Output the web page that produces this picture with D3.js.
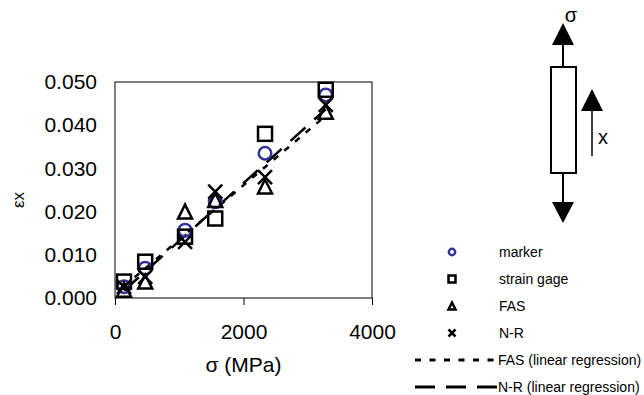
<!DOCTYPE html>
<meta charset="utf-8">
<script src="https://d3js.org/d3.v7.min.js"></script>
<style>
  body { margin: 0; background: #fff; }
  text { font-family: "Liberation Sans", Arial, sans-serif; fill: #000; }
  .axis text { font-size: 21px; }
  .legend text { font-size: 14px; }
</style>
<body>
<div id="chart"></div>
<script>
  // stress values (MPa) for each measurement point
  const sigma = [140, 470, 1090, 1560, 2335, 3280];
  // strain readings per method
  const marker     = [0.0026, 0.0069, 0.0157, 0.0223, 0.0335, 0.0470];
  const strainGage = [0.0038, 0.0084, 0.0142, 0.0184, 0.0380, 0.0482];
  const fas        = [0.0019, 0.0038, 0.0200, 0.0227, 0.0258, 0.0431];
  const nr         = [0.0026, 0.0049, 0.0130, 0.0246, 0.0280, 0.0447];
  // regression line end points
  const fitX   = [140, 3280];
  const fasFit = [0.0027, 0.0422];
  const nrFit  = [0.0017, 0.0437];
  const xTicks = [0, 2000, 4000];
  const yTicks = [0, 0.01, 0.02, 0.03, 0.04, 0.05];
  const legendLabels = ["marker", "strain gage", "FAS", "N-R",
                        "FAS (linear regression)", "N-R (linear regression)"];

  const width = 644, height = 395;
  const svg = d3.select("#chart").append("svg")
    .attr("width", width).attr("height", height);

  const x = d3.scaleLinear().domain([0, 4000]).range([115, 372]);
  const y = d3.scaleLinear().domain([0, 0.05]).range([298, 82]);

  // plot frame
  svg.append("rect")
    .attr("x", x(0)).attr("y", y(0.05))
    .attr("width", x(4000) - x(0)).attr("height", y(0) - y(0.05))
    .attr("fill", "none").attr("stroke", "#000").attr("stroke-width", 1);

  const xAxis = svg.append("g").attr("class", "axis")
    .attr("transform", `translate(0,${y(0)})`)
    .call(d3.axisBottom(x).tickValues(xTicks).tickSize(7).tickPadding(19).tickFormat(d3.format("d")));
  xAxis.select(".domain").remove();
  xAxis.selectAll("line").attr("stroke", "#000");

  const yAxis = svg.append("g").attr("class", "axis")
    .attr("transform", `translate(${x(0)},0)`)
    .call(d3.axisLeft(y).tickValues(yTicks).tickSize(0).tickPadding(18).tickFormat(d3.format(".3f")));
  yAxis.select(".domain").remove();

  svg.append("text").attr("x", x(2000)).attr("y", 372)
    .attr("text-anchor", "middle").style("font-size", "21px").text("σ (MPa)");
  svg.append("text").attr("transform", "translate(24,200) rotate(-90)")
    .attr("text-anchor", "middle").style("font-size", "17px").text("εx");

  // regression lines
  const line = d3.line().x(d => x(d[0])).y(d => y(d[1]));
  svg.append("path").datum(fitX.map((v, i) => [v, fasFit[i]]))
    .attr("d", line).attr("fill", "none").attr("stroke", "#000")
    .attr("stroke-width", 2.5).attr("stroke-dasharray", "6,8");
  svg.append("path").datum(fitX.map((v, i) => [v, nrFit[i]]))
    .attr("d", line).attr("fill", "none").attr("stroke", "#000")
    .attr("stroke-width", 2.5).attr("stroke-dasharray", "20,12");

  // marker shapes
  function drawSymbol(g, kind, s) {
    if (kind === "circle") {
      g.append("circle").attr("r", s * 0.45)
        .attr("fill", "none").attr("stroke", "#333399").attr("stroke-width", 2.5);
    } else if (kind === "square") {
      g.append("rect").attr("x", -s / 2).attr("y", -s / 2).attr("width", s).attr("height", s)
        .attr("fill", "none").attr("stroke", "#000").attr("stroke-width", 2.5);
    } else if (kind === "triangle") {
      g.append("path").attr("d", `M0,${-s / 2}L${s / 2},${s / 2}L${-s / 2},${s / 2}Z`)
        .attr("fill", "none").attr("stroke", "#000").attr("stroke-width", 2.5);
    } else {
      g.append("path").attr("d", `M${-s / 2},${-s / 2}L${s / 2},${s / 2}M${s / 2},${-s / 2}L${-s / 2},${s / 2}`)
        .attr("fill", "none").attr("stroke", "#000").attr("stroke-width", 2.5);
    }
  }

  const series = [
    { kind: "circle", values: marker },
    { kind: "square", values: strainGage },
    { kind: "triangle", values: fas },
    { kind: "cross", values: nr }
  ];

  series.forEach(sr => {
    svg.append("g").selectAll("g")
      .data(sigma.map((v, i) => [v, sr.values[i]]))
      .join("g")
      .attr("transform", d => `translate(${x(d[0])},${y(d[1])})`)
      .each(function() { drawSymbol(d3.select(this), sr.kind, 14); });
  });

  // legend
  const legend = svg.append("g").attr("class", "legend");
  const ly = d3.scalePoint().domain(legendLabels).range([252, 387]);
  series.forEach((sr, i) => {
    const g = legend.append("g").attr("transform", `translate(452,${ly(legendLabels[i])})`);
    drawSymbol(g, sr.kind, 7);
  });
  legend.append("line").attr("x1", 415).attr("x2", 497)
    .attr("y1", ly(legendLabels[4])).attr("y2", ly(legendLabels[4]))
    .attr("stroke", "#000").attr("stroke-width", 3).attr("stroke-dasharray", "6,8.5");
  legend.append("line").attr("x1", 415).attr("x2", 497)
    .attr("y1", ly(legendLabels[5])).attr("y2", ly(legendLabels[5]))
    .attr("stroke", "#000").attr("stroke-width", 3).attr("stroke-dasharray", "20,11");
  legend.selectAll("text.lbl").data(legendLabels).join("text")
    .attr("class", "lbl")
    .attr("x", (d, i) => i < 4 ? 499 : 498)
    .attr("y", d => ly(d)).attr("dy", "0.35em").text(d => d);

  // specimen sketch
  const sk = svg.append("g");
  const cx = 563;
  sk.append("text").attr("x", 571).attr("y", 22).attr("text-anchor", "middle")
    .style("font-size", "20px").text("σ");
  sk.append("path").attr("d", `M${cx},23L${cx + 11},45L${cx - 11},45Z`).attr("fill", "#000");
  sk.append("line").attr("x1", cx).attr("x2", cx).attr("y1", 45).attr("y2", 67)
    .attr("stroke", "#000").attr("stroke-width", 2);
  sk.append("rect").attr("x", 551).attr("y", 67).attr("width", 25).attr("height", 106)
    .attr("fill", "#fff").attr("stroke", "#000").attr("stroke-width", 2);
  sk.append("line").attr("x1", cx).attr("x2", cx).attr("y1", 173).attr("y2", 202)
    .attr("stroke", "#000").attr("stroke-width", 2);
  sk.append("path").attr("d", `M${cx},223L${cx + 11},202L${cx - 11},202Z`).attr("fill", "#000");
  const ax = 592;
  sk.append("path").attr("d", `M${ax},89L${ax + 11},111L${ax - 11},111Z`).attr("fill", "#000");
  sk.append("line").attr("x1", ax).attr("x2", ax).attr("y1", 111).attr("y2", 156)
    .attr("stroke", "#000").attr("stroke-width", 1.5);
  sk.append("text").attr("x", 598).attr("y", 144).style("font-size", "20px").text("x");
</script>
</body>
